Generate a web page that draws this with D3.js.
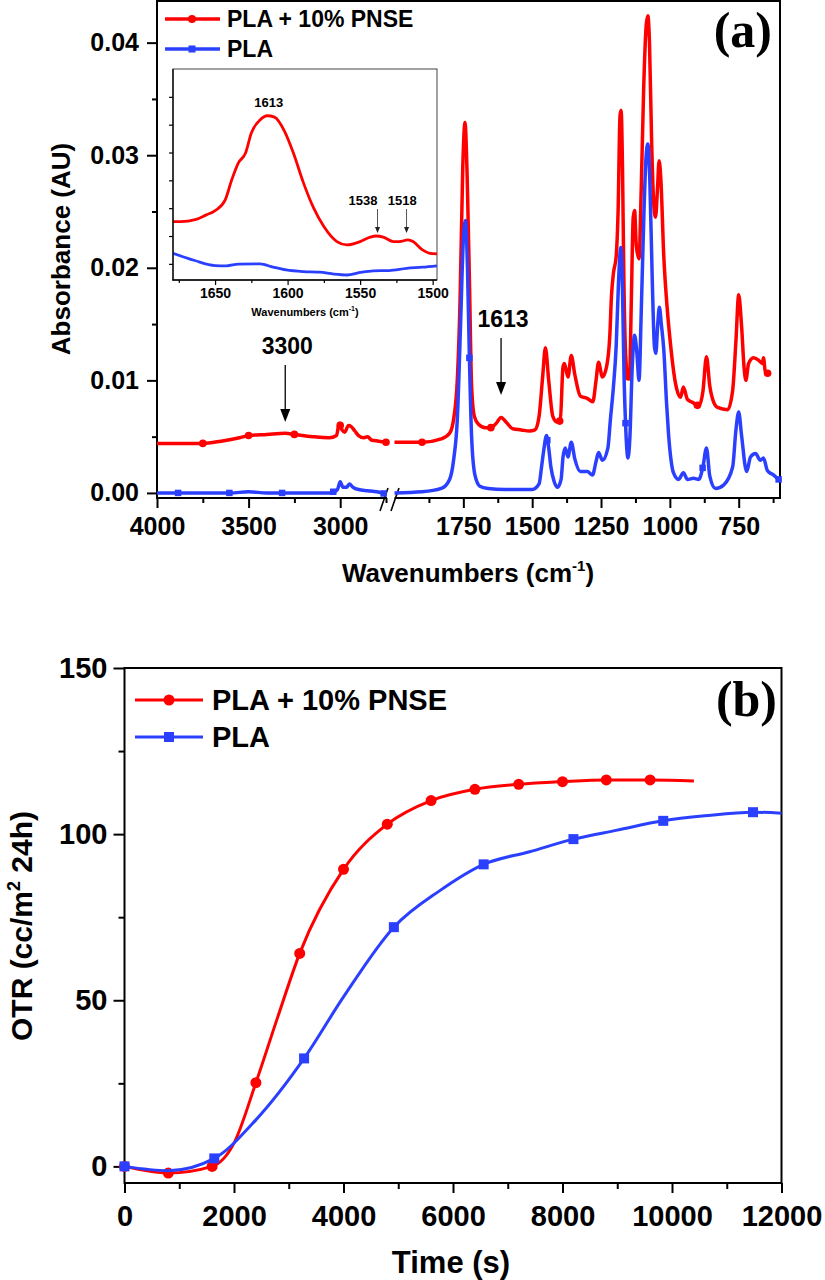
<!DOCTYPE html>
<html><head><meta charset="utf-8">
<script src="https://cdn.jsdelivr.net/npm/d3@7"></script>
<style>
body{margin:0;background:#fff}
svg{display:block}
</style>
</head><body>
<svg id="c" width="825" height="1280"></svg>
<script>
// ---------- Panel (a): FTIR spectra ----------
const seriesNames = ["PLA + 10% PNSE", "PLA"];
const redLeft = [[4000,0.0044],[3850,0.0044],[3750,0.0044],[3650,0.0046],[3550,0.0049],[3500,0.0051],[3400,0.0052],[3300,0.0053],[3250,0.0052],[3150,0.0050],[3060,0.0049],[3020,0.0051],[3005,0.0062],[2990,0.0056],[2975,0.0054],[2955,0.0060],[2940,0.0059],[2920,0.0055],[2900,0.0051],[2870,0.0049],[2850,0.0050],[2830,0.0047],[2790,0.0046],[2750,0.0045]];
const blueLeft = [[4000,0.0000],[3800,0.0000],[3600,0.0000],[3500,0.0001],[3400,0.0000],[3050,0.0000],[3015,0.0003],[3000,0.0010],[2985,0.0005],[2965,0.0005],[2950,0.0008],[2930,0.0005],[2900,0.0003],[2850,0.0002],[2800,0.0001],[2750,-0.0001]];
const redRight = [[2000,0.0045],[1900,0.0045],[1830,0.0048],[1800,0.0053],[1785,0.0066],[1772,0.010],[1762,0.017],[1752,0.029],[1744,0.0329],[1736,0.028],[1728,0.019],[1720,0.0095],[1710,0.0068],[1695,0.0061],[1670,0.0058],[1650,0.0058],[1630,0.0062],[1613,0.0067],[1595,0.0063],[1570,0.0057],[1540,0.0056],[1510,0.0055],[1490,0.0056],[1475,0.0068],[1462,0.0103],[1452,0.0129],[1440,0.0100],[1425,0.0068],[1410,0.0063],[1398,0.0064],[1388,0.0112],[1383,0.0115],[1370,0.0103],[1358,0.0122],[1345,0.0105],[1325,0.0086],[1300,0.0084],[1280,0.0081],[1268,0.0100],[1259,0.0116],[1245,0.0103],[1230,0.0112],[1218,0.0140],[1212,0.0175],[1205,0.0195],[1195,0.0210],[1188,0.0250],[1181,0.0335],[1177,0.0340],[1172,0.0290],[1167,0.0190],[1160,0.0120],[1152,0.0102],[1146,0.0105],[1140,0.0170],[1133,0.0245],[1128,0.0251],[1122,0.0220],[1112,0.0208],[1104,0.0270],[1095,0.0360],[1086,0.0415],[1080,0.0424],[1074,0.0400],[1066,0.0310],[1058,0.0255],[1052,0.0245],[1045,0.0270],[1039,0.0295],[1033,0.0280],[1022,0.0210],[1010,0.0165],[998,0.0133],[980,0.0098],[961,0.0085],[951,0.0094],[936,0.0083],[914,0.0080],[895,0.0077],[880,0.0090],[867,0.0121],[855,0.0095],[840,0.0080],[827,0.0076],[790,0.0074],[772,0.0091],[760,0.0135],[750,0.0176],[740,0.0150],[730,0.0110],[724,0.0100],[714,0.0115],[696,0.0120],[678,0.0118],[664,0.0115],[660,0.0120],[653,0.0107],[642,0.0106]];
const blueRight = [[2000,0.0000],[1900,0.0001],[1830,0.0004],[1800,0.0012],[1785,0.0030],[1772,0.0065],[1760,0.0150],[1750,0.0225],[1742,0.0242],[1735,0.0200],[1728,0.0120],[1720,0.0050],[1708,0.0016],[1690,0.0006],[1660,0.0004],[1600,0.0003],[1500,0.0003],[1475,0.0008],[1465,0.0025],[1458,0.0038],[1448,0.0051],[1440,0.0040],[1432,0.0023],[1420,0.0010],[1408,0.0005],[1395,0.0012],[1388,0.0032],[1380,0.0040],[1370,0.0032],[1358,0.0045],[1345,0.0030],[1325,0.0019],[1300,0.0019],[1281,0.0016],[1268,0.0028],[1259,0.0036],[1245,0.0029],[1225,0.0040],[1216,0.0065],[1205,0.0094],[1195,0.0130],[1186,0.0190],[1178,0.0218],[1172,0.0180],[1166,0.0100],[1161,0.0062],[1152,0.0031],[1145,0.0050],[1137,0.0110],[1128,0.0140],[1120,0.0125],[1112,0.0100],[1104,0.0160],[1094,0.0250],[1086,0.0300],[1080,0.0310],[1073,0.0280],[1064,0.0190],[1056,0.0130],[1051,0.0124],[1044,0.0150],[1038,0.0165],[1031,0.0150],[1022,0.0127],[1012,0.0080],[1005,0.0053],[995,0.0028],[987,0.0018],[968,0.0012],[951,0.0018],[936,0.0012],[914,0.0013],[895,0.0012],[880,0.0023],[867,0.0040],[855,0.0015],[834,0.0004],[805,0.0007],[772,0.0023],[760,0.0056],[750,0.0072],[740,0.0052],[721,0.0019],[707,0.0032],[689,0.0035],[671,0.0029],[660,0.0031],[646,0.0020],[624,0.0016],[605,0.0012],[600,0.0011]];
const redMarkersL = [3750,3500,3250,3000,2750];
const redMarkersR = [1900,1650,1400,1150,900,645];
const blueMarkersL = [3885,3605,3317,3038,2763];
const blueMarkersR = [1728,1445,1161,881,605];
const aYTicks = [0,0.01,0.02,0.03,0.04];
const aYMinor = [0.005,0.015,0.025,0.035];
const aXTicksL = [4000,3500,3000];
const aXMinorL = [3750,3250,2750];
const aXTicksR = [1750,1500,1250,1000,750];
const aXMinorR = [1875,1625,1375,1125,875,625];
const peakNotes = [{label:"3300", wn:3300, seg:"L"}, {label:"1613", wn:1613, seg:"R"}];

// inset (arbitrary absorbance units)
const insetRed = [[1679,2.52],[1674,2.52],[1663,2.60],[1656,2.76],[1650,2.91],[1643,3.30],[1638.5,4.02],[1634,4.62],[1629,4.98],[1625,5.70],[1619,6.17],[1614,6.32],[1609,6.27],[1602,5.75],[1596,4.98],[1589,3.90],[1582,3.00],[1575,2.34],[1566,1.80],[1559,1.68],[1550,1.80],[1543,1.96],[1539,2.00],[1534,1.96],[1527,1.80],[1523,1.80],[1517,1.86],[1513.5,1.80],[1507,1.50],[1502,1.38],[1497,1.36]];
const insetBlue = [[1679,1.38],[1664,1.12],[1650,0.94],[1642,0.93],[1634,0.99],[1619,1.00],[1610,0.88],[1601,0.78],[1589,0.72],[1578,0.70],[1568,0.63],[1559,0.60],[1550,0.69],[1541,0.75],[1530,0.76],[1518,0.84],[1507,0.88],[1497,0.93]];
const insetXTicks = [1650,1600,1550,1500];
const insetXMinor = [1675,1625,1575,1525];
const insetYTicks = [1,2,3,4,5,6,7];
const insetNotes = [
  {label:"1613", wn:1613, labelWn:1613, arrow:false},
  {label:"1538", wn:1538, labelWn:1548, arrow:true},
  {label:"1518", wn:1518, labelWn:1521, arrow:true}
];

// ---------- Panel (b): OTR ----------
const otrTimeRed = [0,800,1600,2000,2400,2800,3200,4000,4800,5600,6400,7200,8000,8800,9600,10400];
const otrRed     = [0,-2,0,7,25.2,45,64.1,89.4,103,110.1,113.5,115,115.8,116.3,116.3,116];
const otrRedMarkers = [0,800,1600,2400,3200,4000,4800,5600,6400,7200,8000,8800,9600];
const otrTimeBlue = [0,800,1640,2400,3280,4000,4920,5760,6560,7400,8200,9000,9840,10600,11480,12000];
const otrBlue     = [0,-1.3,2.4,14,32.5,51,72,83,90.9,94.7,98.5,101.2,104,105.5,106.6,106.3];
const otrBlueMarkers = [0,1640,3280,4920,6560,8200,9840,11480];
const bXTicks = [0,2000,4000,6000,8000,10000,12000];
const bXMinor = [1000,3000,5000,7000,9000,11000];
const bYTicks = [0,50,100,150];
const bYMinor = [25,75,125];

const RED = "#ff0000", BLUE = "#2b40ff";
const SANS = "'Liberation Sans', Arial, sans-serif";
const SERIF = "'Liberation Serif', 'Times New Roman', serif";

const svg = d3.select("#c");

function interp(data, x) {
  for (let i = 0; i < data.length - 1; i++) {
    const a = data[i], b = data[i+1];
    if ((x <= a[0] && x >= b[0]) || (x >= a[0] && x <= b[0])) {
      const t = (x - a[0]) / (b[0] - a[0]);
      return a[1] + t * (b[1] - a[1]);
    }
  }
  return data[data.length-1][1];
}
function styleAxis(g, size) {
  g.attr("font-family", SANS).attr("font-size", size).attr("font-weight", "bold");
  g.select(".domain").remove();
  g.selectAll(".tick line").attr("stroke", "#000").attr("stroke-width", 2);
  g.selectAll(".tick text").attr("fill", "#000");
}

// ===== Panel (a) =====
const xL = d3.scaleLinear().domain([4000, 2750]).range([157, 386]);
const xR = d3.scaleLinear().domain([2000, 600]).range([394.5, 780]);
const ya = d3.scaleLinear().domain([-0.00045, 0.0437]).range([498, 1]);
const gA = svg.append("g");

styleAxis(gA.append("g").attr("transform", "translate(157,0)")
  .call(d3.axisLeft(ya).tickValues(aYTicks).tickSize(10).tickPadding(8).tickFormat(d3.format(".2f"))), 25);
styleAxis(gA.append("g").attr("transform", "translate(157,0)")
  .call(d3.axisLeft(ya).tickValues(aYMinor).tickSize(5).tickFormat("")), 25);
styleAxis(gA.append("g").attr("transform", "translate(0,498)")
  .call(d3.axisBottom(xL).tickValues(aXTicksL).tickSize(10).tickPadding(9).tickFormat(d3.format("d"))), 25);
styleAxis(gA.append("g").attr("transform", "translate(0,498)")
  .call(d3.axisBottom(xL).tickValues(aXMinorL).tickSize(5).tickFormat("")), 25);
styleAxis(gA.append("g").attr("transform", "translate(0,498)")
  .call(d3.axisBottom(xR).tickValues(aXTicksR).tickSize(10).tickPadding(9).tickFormat(d3.format("d"))), 25);
styleAxis(gA.append("g").attr("transform", "translate(0,498)")
  .call(d3.axisBottom(xR).tickValues(aXMinorR).tickSize(5).tickFormat("")), 25);

const fr = gA.append("g").attr("stroke", "#000").attr("stroke-width", 2).attr("fill", "none");
fr.append("line").attr("x1", 157).attr("x2", 157).attr("y1", 0.5).attr("y2", 499);
fr.append("line").attr("x1", 156).attr("x2", 781).attr("y1", 1).attr("y2", 1);
fr.append("line").attr("x1", 780).attr("x2", 780).attr("y1", 0.5).attr("y2", 499);
fr.append("line").attr("x1", 156).attr("x2", xL(2750) + 1).attr("y1", 498).attr("y2", 498);
fr.append("line").attr("x1", xR(2000)).attr("x2", 781).attr("y1", 498).attr("y2", 498);
fr.append("line").attr("x1", 380).attr("y1", 511).attr("x2", 388).attr("y2", 488).attr("stroke-width", 1.6);
fr.append("line").attr("x1", 391).attr("y1", 511).attr("x2", 399).attr("y2", 488).attr("stroke-width", 1.6);

function drawSpec(data, xs, color) {
  gA.append("path").datum(data)
    .attr("fill", "none").attr("stroke", color).attr("stroke-width", 3.5)
    .attr("stroke-linejoin", "round")
    .attr("d", d3.line().x(d => xs(d[0])).y(d => ya(d[1])).curve(d3.curveMonotoneX));
}
function drawCircles(data, xs, list, r) {
  gA.selectAll(null).data(list).enter().append("circle")
    .attr("cx", d => xs(d)).attr("cy", d => ya(interp(data, d))).attr("r", r).attr("fill", RED);
}
function drawSquares(data, xs, list, s) {
  gA.selectAll(null).data(list).enter().append("rect")
    .attr("x", d => xs(d) - s/2).attr("y", d => ya(interp(data, d)) - s/2)
    .attr("width", s).attr("height", s).attr("fill", BLUE);
}
drawSpec(redLeft, xL, RED);
drawSpec(redRight, xR, RED);
drawCircles(redLeft, xL, redMarkersL, 3.8);
drawCircles(redRight, xR, redMarkersR, 3.8);
drawSpec(blueLeft, xL, BLUE);
drawSpec(blueRight, xR, BLUE);
drawSquares(blueLeft, xL, blueMarkersL, 6.5);
drawSquares(blueRight, xR, blueMarkersR, 6.5);

const xt = gA.append("text").attr("x", 468).attr("y", 582).attr("text-anchor", "middle")
  .attr("font-family", SANS).attr("font-size", 26).attr("font-weight", "bold");
xt.append("tspan").text("Wavenumbers (cm");
xt.append("tspan").attr("font-size", 15).attr("dy", -11).text("-1");
xt.append("tspan").attr("dy", 11).text(")");
gA.append("text").attr("transform", "translate(70,249) rotate(-90)").attr("text-anchor", "middle")
  .attr("font-family", SANS).attr("font-size", 26).attr("font-weight", "bold").text("Absorbance (AU)");

const legA = gA.append("g");
legA.append("line").attr("x1", 165).attr("x2", 220).attr("y1", 19).attr("y2", 19).attr("stroke", RED).attr("stroke-width", 3.5);
legA.append("circle").attr("cx", 192).attr("cy", 19).attr("r", 4).attr("fill", RED);
legA.append("line").attr("x1", 165).attr("x2", 220).attr("y1", 49).attr("y2", 49).attr("stroke", BLUE).attr("stroke-width", 3.5);
legA.append("rect").attr("x", 188.5).attr("y", 45.5).attr("width", 7).attr("height", 7).attr("fill", BLUE);
legA.append("text").attr("x", 227).attr("y", 27).attr("font-family", SANS).attr("font-size", 23).attr("font-weight", "bold").text(seriesNames[0]);
legA.append("text").attr("x", 227).attr("y", 57).attr("font-family", SANS).attr("font-size", 23).attr("font-weight", "bold").text(seriesNames[1]);

gA.append("text").attr("x", 772).attr("y", 47).attr("text-anchor", "end")
  .attr("font-family", SERIF).attr("font-size", 50).attr("font-weight", "bold").text("(a)");

const noteY = {"3300": {ty: 354, a1: 365, a2: 422}, "1613": {ty: 327, a1: 338, a2: 395}};
peakNotes.forEach(n => {
  const xs = n.seg === "L" ? xL : xR;
  const cx = xs(n.wn);
  const p = noteY[n.label];
  gA.append("text").attr("x", cx + 2).attr("y", p.ty).attr("text-anchor", "middle")
    .attr("font-family", SANS).attr("font-size", 23).attr("font-weight", "bold").text(n.label);
  gA.append("line").attr("x1", cx).attr("x2", cx).attr("y1", p.a1).attr("y2", p.a2 - 10).attr("stroke", "#000").attr("stroke-width", 1.3);
  gA.append("path").attr("d", `M${cx-5},${p.a2-13}L${cx+5},${p.a2-13}L${cx},${p.a2}Z`).attr("fill", "#000");
});

// ===== Inset =====
const xi = d3.scaleLinear().domain([1679, 1497]).range([173, 437]);
const yi = d3.scaleLinear().domain([0.42, 8.0]).range([280, 69]);
const gI = svg.append("g");
gI.append("rect").attr("x", 173).attr("y", 69).attr("width", 264).attr("height", 211)
  .attr("fill", "#fff").attr("stroke", "#444").attr("stroke-width", 1);
gI.append("clipPath").attr("id", "ic").append("rect").attr("x", 173).attr("y", 69).attr("width", 264).attr("height", 211);
const gIc = gI.append("g").attr("clip-path", "url(#ic)");
const lineI = d3.line().x(d => xi(d[0])).y(d => yi(d[1])).curve(d3.curveMonotoneX);
gIc.append("path").datum(insetRed).attr("fill", "none").attr("stroke", RED).attr("stroke-width", 2.8).attr("d", lineI);
gIc.append("path").datum(insetBlue).attr("fill", "none").attr("stroke", BLUE).attr("stroke-width", 2.8).attr("d", lineI);
gI.append("line").attr("x1", 173).attr("x2", 173).attr("y1", 69).attr("y2", 280.5).attr("stroke", "#000").attr("stroke-width", 1.3);
gI.append("line").attr("x1", 172.5).attr("x2", 437).attr("y1", 280).attr("y2", 280).attr("stroke", "#000").attr("stroke-width", 1.3);
const ia1 = gI.append("g").attr("transform", "translate(0,280)")
  .call(d3.axisBottom(xi).tickValues(insetXTicks).tickSize(5).tickPadding(3).tickFormat(d3.format("d")));
styleAxis(ia1, 14); ia1.selectAll(".tick line").attr("stroke-width", 1.2);
const ia2 = gI.append("g").attr("transform", "translate(0,280)")
  .call(d3.axisBottom(xi).tickValues(insetXMinor).tickSize(3).tickFormat(""));
styleAxis(ia2, 14); ia2.selectAll(".tick line").attr("stroke-width", 1.2);
const ia3 = gI.append("g").attr("transform", "translate(173,0)")
  .call(d3.axisLeft(yi).tickValues(insetYTicks).tickSize(4).tickFormat(""));
styleAxis(ia3, 14); ia3.selectAll(".tick line").attr("stroke-width", 1.2);
const it = gI.append("text").attr("x", 305).attr("y", 316).attr("text-anchor", "middle")
  .attr("font-family", SANS).attr("font-size", 11).attr("font-weight", "bold");
it.append("tspan").text("Wavenumbers (cm");
it.append("tspan").attr("font-size", 7).attr("dy", -5).text("-1");
it.append("tspan").attr("dy", 5).text(")");
insetNotes.forEach(n => {
  const cx = xi(n.wn), lx = xi(n.labelWn);
  if (!n.arrow) {
    gI.append("text").attr("x", lx).attr("y", 107).attr("text-anchor", "middle")
      .attr("font-family", SANS).attr("font-size", 13).attr("font-weight", "bold").text(n.label);
  } else {
    gI.append("text").attr("x", lx).attr("y", 205).attr("text-anchor", "middle")
      .attr("font-family", SANS).attr("font-size", 13).attr("font-weight", "bold").text(n.label);
    gI.append("line").attr("x1", cx).attr("x2", cx).attr("y1", 209).attr("y2", 228).attr("stroke", "#555").attr("stroke-width", 1);
    gI.append("path").attr("d", `M${cx-2.5},${227}L${cx+2.5},${227}L${cx},${233}Z`).attr("fill", "#222");
  }
});

// ===== Panel (b) =====
const xb = d3.scaleLinear().domain([0, 12000]).range([124.5, 781.5]);
const yb = d3.scaleLinear().domain([-5, 150]).range([1183, 668]);
const gB = svg.append("g");
styleAxis(gB.append("g").attr("transform", "translate(124.5,0)")
  .call(d3.axisLeft(yb).tickValues(bYTicks).tickSize(11).tickPadding(6).tickFormat(d3.format("d"))), 29);
styleAxis(gB.append("g").attr("transform", "translate(124.5,0)")
  .call(d3.axisLeft(yb).tickValues(bYMinor).tickSize(6).tickFormat("")), 29);
styleAxis(gB.append("g").attr("transform", "translate(0,1183)")
  .call(d3.axisBottom(xb).tickValues(bXTicks).tickSize(10).tickPadding(12).tickFormat(d3.format("d"))), 29);
styleAxis(gB.append("g").attr("transform", "translate(0,1183)")
  .call(d3.axisBottom(xb).tickValues(bXMinor).tickSize(6).tickFormat("")), 29);
gB.append("rect").attr("x", 124.5).attr("y", 668).attr("width", 657).attr("height", 515)
  .attr("fill", "none").attr("stroke", "#000").attr("stroke-width", 2);

const redPts = otrTimeRed.map((t, i) => [t, otrRed[i]]);
const bluePts = otrTimeBlue.map((t, i) => [t, otrBlue[i]]);
const lineB = d3.line().x(d => xb(d[0])).y(d => yb(d[1])).curve(d3.curveMonotoneX);
gB.append("path").datum(redPts).attr("fill", "none").attr("stroke", RED).attr("stroke-width", 3).attr("d", lineB);
gB.selectAll(null).data(redPts.filter(d => otrRedMarkers.includes(d[0]))).enter().append("circle")
  .attr("cx", d => xb(d[0])).attr("cy", d => yb(d[1])).attr("r", 5.5).attr("fill", RED);
gB.append("path").datum(bluePts).attr("fill", "none").attr("stroke", BLUE).attr("stroke-width", 3).attr("d", lineB);
gB.selectAll(null).data(bluePts.filter(d => otrBlueMarkers.includes(d[0]))).enter().append("rect")
  .attr("x", d => xb(d[0]) - 5).attr("y", d => yb(d[1]) - 5).attr("width", 10).attr("height", 10).attr("fill", BLUE);

gB.append("text").attr("x", 451).attr("y", 1273).attr("text-anchor", "middle")
  .attr("font-family", SANS).attr("font-size", 31).attr("font-weight", "bold").text("Time (s)");
const yt = gB.append("text").attr("transform", "translate(32,926) rotate(-90)").attr("text-anchor", "middle")
  .attr("font-family", SANS).attr("font-size", 30).attr("font-weight", "bold");
yt.append("tspan").text("OTR (cc/m");
yt.append("tspan").attr("font-size", 18).attr("dy", -12).text("2");
yt.append("tspan").attr("dy", 12).text(" 24h)");

const legB = gB.append("g");
legB.append("line").attr("x1", 135).attr("x2", 203).attr("y1", 700).attr("y2", 700).attr("stroke", RED).attr("stroke-width", 3);
legB.append("circle").attr("cx", 169).attr("cy", 700).attr("r", 5.5).attr("fill", RED);
legB.append("line").attr("x1", 135).attr("x2", 203).attr("y1", 737).attr("y2", 737).attr("stroke", BLUE).attr("stroke-width", 3);
legB.append("rect").attr("x", 164).attr("y", 732).attr("width", 10).attr("height", 10).attr("fill", BLUE);
legB.append("text").attr("x", 212).attr("y", 710).attr("font-family", SANS).attr("font-size", 29).attr("font-weight", "bold").text(seriesNames[0]);
legB.append("text").attr("x", 212).attr("y", 747).attr("font-family", SANS).attr("font-size", 29).attr("font-weight", "bold").text(seriesNames[1]);

gB.append("text").attr("x", 777).attr("y", 716).attr("text-anchor", "end")
  .attr("font-family", SERIF).attr("font-size", 50).attr("font-weight", "bold").text("(b)");
</script>
</body></html>
